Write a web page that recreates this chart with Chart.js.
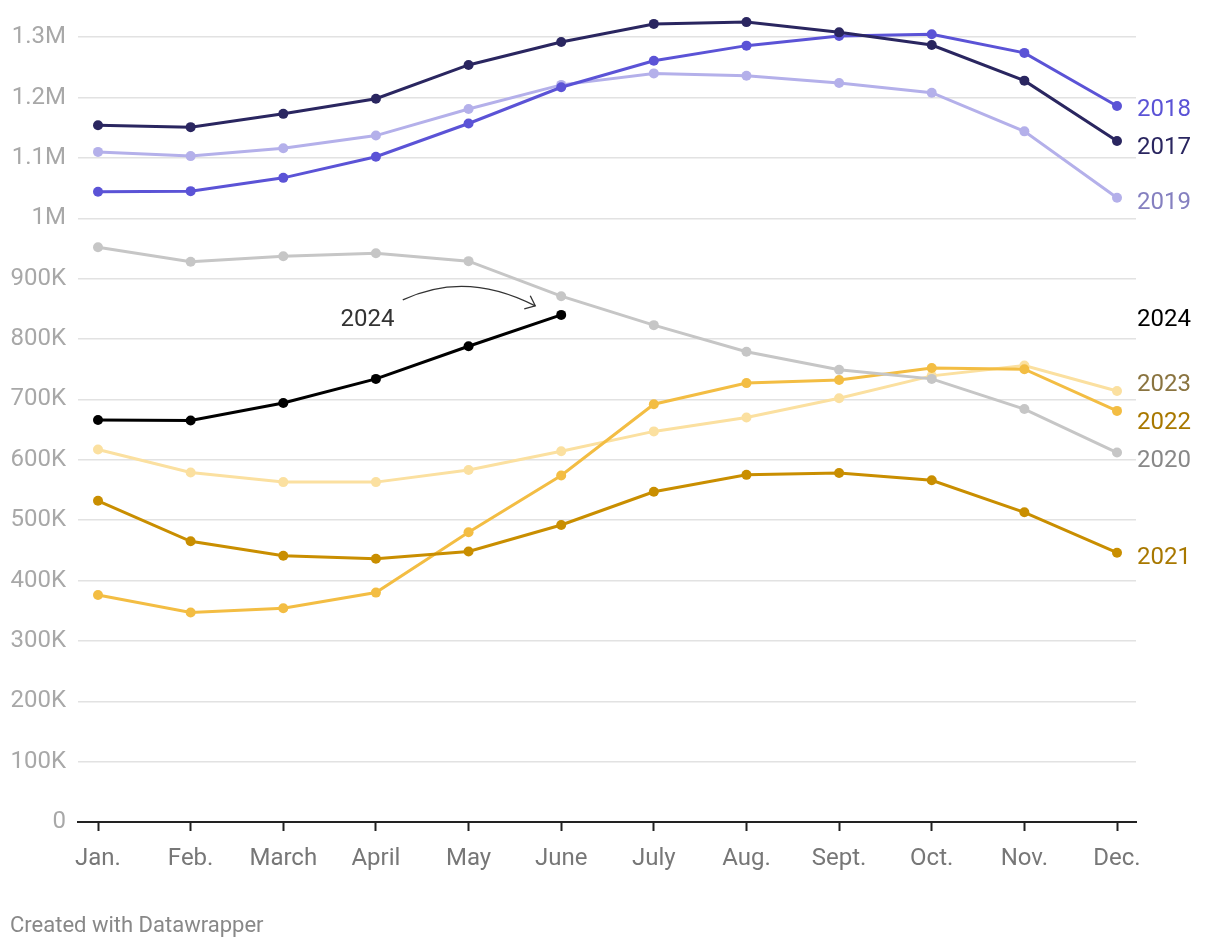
<!DOCTYPE html>
<html>
<head>
<meta charset="utf-8">
<script src="https://cdn.jsdelivr.net/npm/chart.js@4/dist/chart.umd.min.js"></script>
<style>
  html, body { margin: 0; padding: 0; background: #fff; }
  #wrap { width: 1220px; height: 948px; position: relative; }
</style>
</head>
<body>
<div id="wrap"><canvas id="grafico"></canvas></div>
<script>
// Meses del eje X
const months = ['Jan.', 'Feb.', 'March', 'April', 'May', 'June', 'July', 'Aug.', 'Sept.', 'Oct.', 'Nov.', 'Dec.'];

// Valores (aprox.)
const y2017 = [1154000, 1151000, 1173000, 1198000, 1254000, 1292000, 1322000, 1325000, 1308000, 1287000, 1228000, 1128000];
const y2018 = [1044000, 1045000, 1067000, 1102000, 1157000, 1217000, 1261000, 1286000, 1302000, 1305000, 1274000, 1186000];
const y2019 = [1110000, 1103000, 1116000, 1137000, 1181000, 1221000, 1240000, 1236000, 1224000, 1208000, 1144000, 1034000];
const y2020 = [952000, 928000, 937000, 942000, 929000, 871000, 823000, 779000, 749000, 734000, 684000, 612000];
const y2021 = [532000, 465000, 441000, 436000, 448000, 492000, 547000, 575000, 578000, 566000, 513000, 446000];
const y2022 = [376000, 347000, 354000, 380000, 480000, 574000, 692000, 727000, 732000, 752000, 750000, 681000];
const y2023 = [617000, 579000, 563000, 563000, 583000, 614000, 647000, 670000, 702000, 739000, 756000, 714000];
const y2024 = [666000, 665000, 694000, 734000, 788000, 840000];

// Etiquetas del eje Y
const yTicks = [0, 100000, 200000, 300000, 400000, 500000, 600000, 700000, 800000, 900000, 1000000, 1100000, 1200000, 1300000];
const yTickLabels = ['0', '100K', '200K', '300K', '400K', '500K', '600K', '700K', '800K', '900K', '1M', '1.1M', '1.2M', '1.3M'];

const FONT = 'Roboto, "Noto Sans", sans-serif';

// Serie -> puntos {x, y}
const toPoints = arr => arr.map((v, i) => ({ x: i, y: v }));

function serie(label, values, color, textColor) {
    return {
        label: label,
        data: toPoints(values),
        borderColor: color,
        backgroundColor: color,
        pointBackgroundColor: color,
        pointBorderWidth: 0,
        pointRadius: 5,
        borderWidth: 3,
        tension: 0,
        clip: false,
        textColor: textColor
    };
}

// Orden de dibujo: el primero queda abajo
const datasets = [
    serie('2024', y2024, '#000000', '#000000'),
    serie('2017', y2017, '#2a2660', '#2a2660'),
    serie('2018', y2018, '#5b53d6', '#5b53d6'),
    serie('2019', y2019, '#b4b0ea', '#8580c0'),
    serie('2020', y2020, '#c6c6c6', '#888888'),
    serie('2021', y2021, '#c98e00', '#a87800'),
    serie('2022', y2022, '#f3bd43', '#a87800'),
    serie('2023', y2023, '#fbe0a0', '#8a7440')
];

// Plugin: etiquetas a la derecha, anotación y pie
const extras = {
    id: 'extras',
    afterDraw(chart) {
        const c = chart.ctx;
        const xs = chart.scales.x, ys = chart.scales.y;
        const area = chart.chartArea;

        // Etiquetas de cada serie al final de la línea, separadas para no chocar
        const labels = chart.data.datasets.map(ds => {
            const last = ds.data[ds.data.length - 1];
            return { text: ds.label, color: ds.textColor, y: ys.getPixelForValue(last.y) + 5 };
        });
        labels.sort((a, b) => a.y - b.y);
        const gap = 38;
        for (let it = 0; it < 60; it++) {
            for (let i = 1; i < labels.length; i++) {
                const d = labels[i].y - labels[i - 1].y;
                if (d < gap) {
                    const push = (gap - d) / 2;
                    labels[i].y += push;
                    labels[i - 1].y -= push;
                }
            }
        }
        c.save();
        c.font = '24px ' + FONT;
        c.textAlign = 'left';
        c.textBaseline = 'middle';
        labels.forEach(l => {
            c.fillStyle = l.color;
            c.fillText(l.text, area.right + 1, l.y);
        });

        // Anotación "2024" con flecha curva
        c.fillStyle = '#333333';
        c.textAlign = 'center';
        c.fillText('2024', xs.getPixelForValue(2.91), ys.getPixelForValue(832000));
        const x0 = xs.getPixelForValue(3.29), y0 = ys.getPixelForValue(865000);
        const x1 = xs.getPixelForValue(4.72), y1 = ys.getPixelForValue(855000);
        c.strokeStyle = '#333333';
        c.lineWidth = 1.3;
        c.beginPath();
        c.moveTo(x0, y0);
        c.bezierCurveTo(x0 + 35, y0 - 16, x1 - 55, y1 - 28, x1, y1);
        c.stroke();
        c.beginPath();
        c.moveTo(x1 - 5, y1 - 10);
        c.lineTo(x1, y1);
        c.lineTo(x1 - 11, y1 + 3);
        c.stroke();

        // Pie
        c.fillStyle = '#888888';
        c.font = '22px ' + FONT;
        c.textAlign = 'left';
        c.textBaseline = 'alphabetic';
        c.fillText('Created with Datawrapper', 10, 932);
        c.restore();
    }
};

Chart.defaults.font.family = FONT;

new Chart(document.getElementById('grafico').getContext('2d'), {
    type: 'line',
    data: { datasets: datasets },
    options: {
        responsive: true,
        maintainAspectRatio: false,
        animation: false,
        layout: { padding: { left: 0, right: 84, top: 7, bottom: 0 } },
        plugins: {
            legend: { display: false },
            tooltip: { enabled: false }
        },
        scales: {
            x: {
                type: 'linear',
                min: -0.216,
                max: 11.205,
                afterBuildTicks: s => { s.ticks = months.map((m, i) => ({ value: i })); },
                afterFit: s => { s.height = 126; s.paddingLeft = 0; s.paddingRight = 0; },
                grid: {
                    drawOnChartArea: false,
                    drawTicks: true,
                    tickLength: 9,
                    tickWidth: 2,
                    tickColor: '#222222'
                },
                border: { display: true, color: '#222222', width: 2 },
                ticks: {
                    color: '#777777',
                    font: { size: 24 },
                    padding: 14,
                    maxRotation: 0,
                    autoSkip: false,
                    callback: v => months[v]
                }
            },
            y: {
                min: 0,
                max: 1350000,
                afterBuildTicks: s => { s.ticks = yTicks.map(v => ({ value: v })); },
                afterFit: s => { s.width = 78; s.paddingTop = 0; s.paddingBottom = 0; },
                grid: {
                    color: '#e2e2e2',
                    lineWidth: 1.5,
                    drawTicks: false
                },
                border: { display: false },
                ticks: {
                    color: '#a8a8a8',
                    font: { size: 24 },
                    padding: 12,
                    callback: v => yTickLabels[yTicks.indexOf(v)]
                }
            }
        }
    },
    plugins: [extras]
});
</script>
</body>
</html>
